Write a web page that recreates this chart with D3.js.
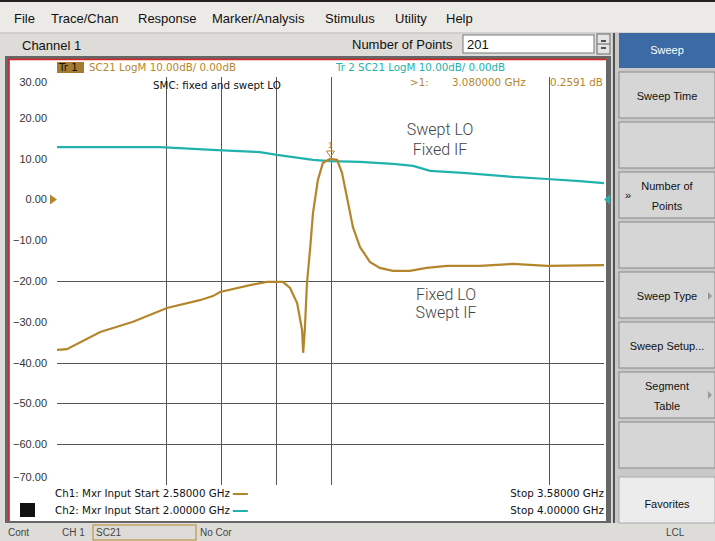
<!DOCTYPE html>
<html lang="en">
<head>
<meta charset="UTF-8">
<title>PNA SMC fixed and swept LO</title>
<style>
  body { margin: 0; background: #fff; }
  svg { display: block; font-family: "Liberation Sans", Arial, sans-serif; }
  .menu text { font-size: 13px; fill: #111; }
  .Axis text { font-size: 11px; fill: #333; }
  .Axis path, .Axis line { display: none; }
  .grid { stroke: #555; stroke-width: 1.3; shape-rendering: crispEdges; }
  .small { font-family: "DejaVu Sans", sans-serif; font-size: 10.3px; }
  .note { font-family: Roboto, "Noto Sans", sans-serif; font-weight: 300; font-size: 16px; fill: #444; text-anchor: middle; }
  .key text { font-size: 11px; fill: #111; text-anchor: middle; }
</style>
<script src="https://d3js.org/d3.v7.min.js"></script>
</head>
<body>
<script>
// trace 1 (Ch1, fixed LO / swept IF), GHz and dB
const ch1Freq = [2.580, 2.598, 2.659, 2.719, 2.781, 2.841, 2.865, 2.878, 2.933, 2.964, 2.993,
                 3.006, 3.019, 3.028, 3.030, 3.033, 3.037, 3.043, 3.048, 3.057, 3.066, 3.079,
                 3.092, 3.101, 3.110, 3.121, 3.134, 3.152, 3.170, 3.194, 3.225, 3.256, 3.293,
                 3.353, 3.414, 3.476, 3.580];
const ch1Db = [-36.9, -36.7, -32.5, -30.0, -26.6, -24.7, -23.7, -22.7, -21.0, -20.2, -20.2,
               -21.7, -25.4, -32.0, -37.6, -32.0, -20.5, -11.7, -3.3, 4.8, 8.9, 9.9,
               9.7, 6.5, 0.6, -6.8, -11.7, -15.3, -16.8, -17.5, -17.5, -16.8, -16.3,
               -16.3, -15.8, -16.3, -16.1];
// trace 2 (Ch2, swept LO / fixed IF)
const ch2Freq = [2.000, 2.157, 2.377, 2.585, 2.742, 2.804, 2.936, 2.998, 3.108, 3.229, 3.302,
                 3.364, 3.485, 3.667, 3.792, 3.912, 4.000];
const ch2Db = [12.8, 12.8, 12.8, 12.1, 11.6, 10.9, 9.7, 9.4, 9.2, 8.7, 8.2,
               7.0, 6.5, 5.5, 5.0, 4.5, 4.0];

const yTicks = [30, 20, 10, 0, -10, -20, -30, -40, -50, -60, -70];
const hGrid = [-20, -40, -50, -60];
const vGrid = [2.78, 2.88, 2.98, 3.08, 3.48];   // in Ch1 GHz
const markerFreq = 3.08;

const menuItems = ["File", "Trace/Chan", "Response", "Marker/Analysis", "Stimulus", "Utility", "Help"];
const menuX = [14, 51, 138, 212, 325, 395, 446];
const softkeys = [["Sweep Time"], [], ["Number of", "Points"], [], ["Sweep Type"],
                  ["Sweep Setup..."], ["Segment", "Table"], []];

const W = 715, H = 541;
const gold = "#b4862c", teal = "#22b2ad";

const svg = d3.select("body").append("svg").attr("width", W).attr("height", H);

// ---- window chrome ----
svg.append("rect").attr("width", W).attr("height", H).attr("fill", "#dedcd8");
svg.append("rect").attr("width", W).attr("height", 33).attr("fill", "#eceae6");
svg.append("line").attr("x1", 0).attr("x2", W).attr("y1", 1).attr("y2", 1).attr("stroke", "#222").attr("stroke-width", 2);
svg.append("line").attr("x1", 0).attr("x2", W).attr("y1", 33).attr("y2", 33).attr("stroke", "#bbb");

svg.append("rect").attr("x", 463).attr("y", 35).attr("width", 131).attr("height", 18)
   .attr("fill", "#fff").attr("stroke", "#777");
svg.append("rect").attr("x", 597).attr("y", 34).attr("width", 13).attr("height", 20)
   .attr("fill", "#e4e4e4").attr("stroke", "#666");
svg.append("line").attr("x1", 597).attr("x2", 610).attr("y1", 44).attr("y2", 44).attr("stroke", "#666");
svg.append("path").attr("d", "M601,41 L606,41 M601,48 L606,48").attr("stroke", "#222").attr("stroke-width", 1.5);

const menu = svg.append("g").attr("class", "menu");
menu.selectAll("text").data(menuItems).enter().append("text")
    .attr("x", (d, i) => menuX[i]).attr("y", 23).text(d => d);
menu.append("text").attr("x", 22).attr("y", 50).text("Channel 1");
menu.append("text").attr("x", 352).attr("y", 49).text("Number of Points");
menu.append("text").attr("x", 467).attr("y", 49).text("201");

// ---- softkey panel ----
svg.append("rect").attr("x", 612).attr("y", 33).attr("width", 103).attr("height", 490).attr("fill", "#c9c9c9");
svg.append("line").attr("x1", 614).attr("x2", 614).attr("y1", 33).attr("y2", 523).attr("stroke", "#555").attr("stroke-width", 2);
svg.append("rect").attr("x", 619).attr("y", 33).attr("width", 96).attr("height", 35).attr("fill", "#3b6aa5");
svg.append("text").attr("x", 667).attr("y", 54).attr("text-anchor", "middle")
   .attr("fill", "#fff").attr("font-size", 11).text("Sweep");

const keys = svg.append("g").attr("class", "key");
const keyY = d3.scaleLinear().domain([0, 1]).range([72, 122]);
softkeys.forEach((lab, i) => {
  const top = keyY(i);
  keys.append("rect").attr("x", 619).attr("y", top).attr("width", 96).attr("height", 46)
      .attr("fill", "#d6d6d6").attr("stroke", "#8a8a8a");
  lab.forEach((t, j) => {
    keys.append("text").attr("x", 667).attr("y", top + 28 + (j - (lab.length - 1) / 2) * 20).text(t);
  });
});
keys.append("text").attr("x", 628).attr("y", 199).attr("font-size", 9).text("»");
keys.append("path").attr("d", "M708,292 L712,296 L708,300 Z M708,391 L712,395 L708,399 Z").attr("fill", "#999");
keys.append("rect").attr("x", 619).attr("y", 477).attr("width", 96).attr("height", 46)
    .attr("fill", "#ececec").attr("stroke", "#aaa");
keys.append("text").attr("x", 667).attr("y", 508).attr("font-size", 12).text("Favorites");

// ---- status bar ----
const status = svg.append("g").attr("font-size", 10).attr("fill", "#444");
status.append("text").attr("x", 8).attr("y", 536).text("Cont");
status.append("text").attr("x", 62).attr("y", 536).text("CH 1");
status.append("rect").attr("x", 93).attr("y", 525).attr("width", 103).attr("height", 15)
      .attr("fill", "none").attr("stroke", "#b4862c");
status.append("text").attr("x", 96).attr("y", 536).text("SC21");
status.append("text").attr("x", 200).attr("y", 536).text("No Cor");
status.append("text").attr("x", 666).attr("y", 536).text("LCL");

// ---- plot window ----
svg.append("rect").attr("x", 5).attr("y", 56).attr("width", 606).attr("height", 467).attr("fill", "#666");
svg.append("rect").attr("x", 9).attr("y", 59).attr("width", 597).attr("height", 462).attr("fill", "#fff");
svg.append("path").attr("d", "M9,521 L9,59.5 L606,59.5").attr("fill", "none").attr("stroke", "#d22").attr("stroke-width", 1.6);

const x1 = d3.scaleLinear().domain([2.58, 3.58]).range([57, 604]);
const x2 = d3.scaleLinear().domain([2.0, 4.0]).range([57, 604]);
const y = d3.scaleLinear().domain([-70, 30]).range([485, 77]);

svg.append("g").selectAll("line").data(vGrid).enter().append("line")
   .attr("class", "grid")
   .attr("x1", d => Math.round(x1(d)) + 0.5).attr("x2", d => Math.round(x1(d)) + 0.5)
   .attr("y1", y(30)).attr("y2", y(-70));
svg.append("g").selectAll("line").data(hGrid).enter().append("line")
   .attr("class", "grid")
   .attr("x1", x1(2.58)).attr("x2", x1(3.58))
   .attr("y1", d => Math.round(y(d)) + 0.5).attr("y2", d => Math.round(y(d)) + 0.5);

const yAxis = d3.axisLeft(y).tickValues(yTicks).tickSize(0).tickPadding(10).tickFormat(d3.format(".2f"));
const ya = svg.append("g").attr("class", "Axis").attr("transform", "translate(57,0)").call(yAxis);
ya.selectAll(".tick text").attr("dy", d => d === 30 ? "0.75em" : d === -70 ? "-0.4em" : "0.32em");

// reference markers
svg.append("path").attr("d", `M50,${y(0) - 5} L57,${y(0)} L50,${y(0) + 5} Z`).attr("fill", gold);
svg.append("path").attr("d", `M610,${y(0) - 5} L604,${y(0)} L610,${y(0) + 5} Z`).attr("fill", teal);

// traces
const line1 = d3.line().x(d => x1(d[0])).y(d => y(d[1]));
const line2 = d3.line().x(d => x2(d[0])).y(d => y(d[1]));
svg.append("path").datum(ch2Freq.map((f, i) => [f, ch2Db[i]]))
   .attr("d", line2).attr("fill", "none").attr("stroke", teal).attr("stroke-width", 2.2);
svg.append("path").datum(ch1Freq.map((f, i) => [f, ch1Db[i]]))
   .attr("d", line1).attr("fill", "none").attr("stroke", gold).attr("stroke-width", 2.2);

// marker 1
const mx = x1(markerFreq), my = y(9.9);
svg.append("path").attr("d", `M${mx - 4},${my - 8} L${mx + 4},${my - 8} L${mx},${my - 2} Z`)
   .attr("fill", "none").attr("stroke", gold);
svg.append("text").attr("x", mx).attr("y", my - 11).attr("text-anchor", "middle")
   .attr("font-size", 9).attr("fill", gold).text("1");

// ---- annotations ----
svg.append("rect").attr("x", 57).attr("y", 62).attr("width", 27).attr("height", 11).attr("fill", "#a47c30");
svg.append("text").attr("class", "small").attr("x", 59).attr("y", 71).attr("fill", "#111").text("Tr 1");
svg.append("text").attr("class", "small").attr("x", 89).attr("y", 71).attr("fill", gold).text("SC21 LogM 10.00dB/ 0.00dB");
svg.append("text").attr("class", "small").attr("x", 336).attr("y", 71).attr("fill", teal).text("Tr 2  SC21 LogM 10.00dB/ 0.00dB");
svg.append("text").attr("class", "small").attr("x", 153).attr("y", 89).attr("fill", "#111").text("SMC: fixed and swept LO");
svg.append("text").attr("class", "small").attr("x", 410).attr("y", 86).attr("fill", gold).text(">1:");
svg.append("text").attr("class", "small").attr("x", 452).attr("y", 86).attr("fill", gold).text("3.080000 GHz");
svg.append("text").attr("class", "small").attr("x", 550).attr("y", 86).attr("fill", gold).text("0.2591 dB");

svg.append("text").attr("class", "note").attr("x", 440).attr("y", 135).text("Swept LO");
svg.append("text").attr("class", "note").attr("x", 440).attr("y", 155).text("Fixed IF");
svg.append("text").attr("class", "note").attr("x", 446).attr("y", 300).attr("font-size", 14).text("Fixed LO");
svg.append("text").attr("class", "note").attr("x", 446).attr("y", 318).attr("font-size", 14).text("Swept IF");

const foot = svg.append("g").attr("class", "small").attr("fill", "#111");
const f1 = foot.append("text").attr("x", 55).attr("y", 497).text("Ch1: Mxr Input Start  2.58000 GHz");
const f2 = foot.append("text").attr("x", 55).attr("y", 514).text("Ch2: Mxr Input Start  2.00000 GHz");
foot.append("text").attr("x", 604).attr("y", 497).attr("text-anchor", "end").text("Stop  3.58000 GHz");
foot.append("text").attr("x", 604).attr("y", 514).attr("text-anchor", "end").text("Stop  4.00000 GHz");
const e1 = 55 + f1.node().getComputedTextLength() + 3;
const e2 = 55 + f2.node().getComputedTextLength() + 3;
svg.append("line").attr("x1", e1).attr("x2", e1 + 15).attr("y1", 494).attr("y2", 494).attr("stroke", gold).attr("stroke-width", 2);
svg.append("line").attr("x1", e2).attr("x2", e2 + 15).attr("y1", 511).attr("y2", 511).attr("stroke", teal).attr("stroke-width", 2);
svg.append("rect").attr("x", 20).attr("y", 503).attr("width", 15).attr("height", 14).attr("fill", "#111");
</script>
</body>
</html>
